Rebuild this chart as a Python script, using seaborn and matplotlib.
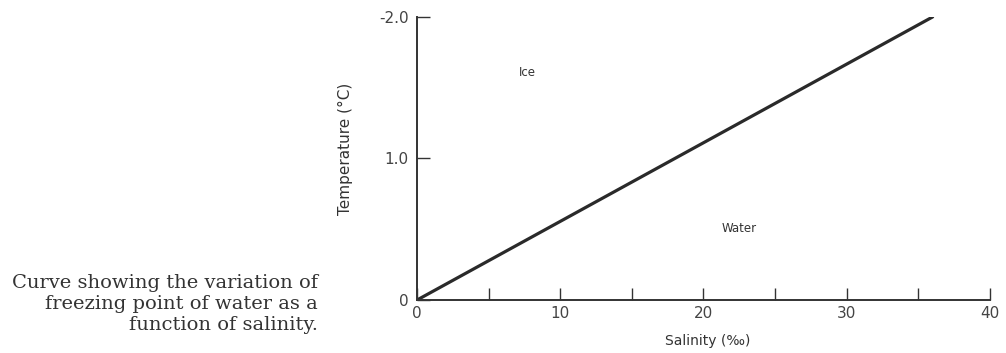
import matplotlib
matplotlib.use("Agg")
import matplotlib.pyplot as plt
import seaborn as sns
import pandas as pd

salinity = [0, 36]
temperature = [0.0, 2.0]
x_major = [0, 10, 20, 30, 40]
x_minor = [5, 15, 25, 35]
y_ticks = [0, 1.0, 2.0]
y_tick_labels = ["0", "1.0", "-2.0"]
region_labels = ["Ice", "Water"]
caption = "Curve showing the variation of\nfreezing point of water as a\nfunction of salinity."

sns.set_theme(style="white")
plt.rcParams['font.family'] = ['DejaVu Sans']

fig = plt.figure(figsize=(10.06, 3.53), dpi=100)
ax = fig.add_axes([0.4145, 0.150, 0.5695, 0.802])

df = pd.DataFrame({"Salinity": salinity, "Temperature": temperature})
sns.lineplot(data=df, x="Salinity", y="Temperature", ax=ax, color="#2a2a2a", linewidth=2.3)

ax.set_xlim(0, 40)
ax.set_ylim(0, 2.0)
ax.set_xticks(x_major)
ax.set_xticks(x_minor, minor=True)
ax.set_yticks(y_ticks)
ax.set_yticklabels(y_tick_labels)
ax.tick_params(axis="both", which="both", direction="in", color="#333333", labelcolor="#444444",
               labelsize=11, left=True, bottom=True, width=1.0)
ax.tick_params(axis="x", which="major", length=9, pad=4)
ax.tick_params(axis="x", which="minor", length=9)
ax.tick_params(axis="y", which="major", length=9, pad=6)

for s in ["top", "right"]:
    ax.spines[s].set_visible(False)
for s in ["left", "bottom"]:
    ax.spines[s].set_color("#333333")
    ax.spines[s].set_linewidth(1.4)

ax.set_xlabel("Salinity (‰)", fontsize=10, color="#333333")
ax.xaxis.set_label_coords(0.508, -0.12)
ax.set_ylabel("Temperature (°C)", fontsize=11, color="#333333")
ax.yaxis.set_label_coords(-0.112, 0.535)

ax.text(7.7, 1.61, region_labels[0], fontsize=8.5, color="#333333", ha="center", va="center")
ax.text(22.5, 0.505, region_labels[1], fontsize=8.5, color="#333333", ha="center", va="center")

fig.text(318 / 1006, 1 - 304 / 353, caption, family=["DejaVu Serif"], fontsize=14,
         color="#333333", ha="right", va="center", multialignment="right", linespacing=1.2)

fig.savefig("out.png", dpi=100, facecolor="white")
